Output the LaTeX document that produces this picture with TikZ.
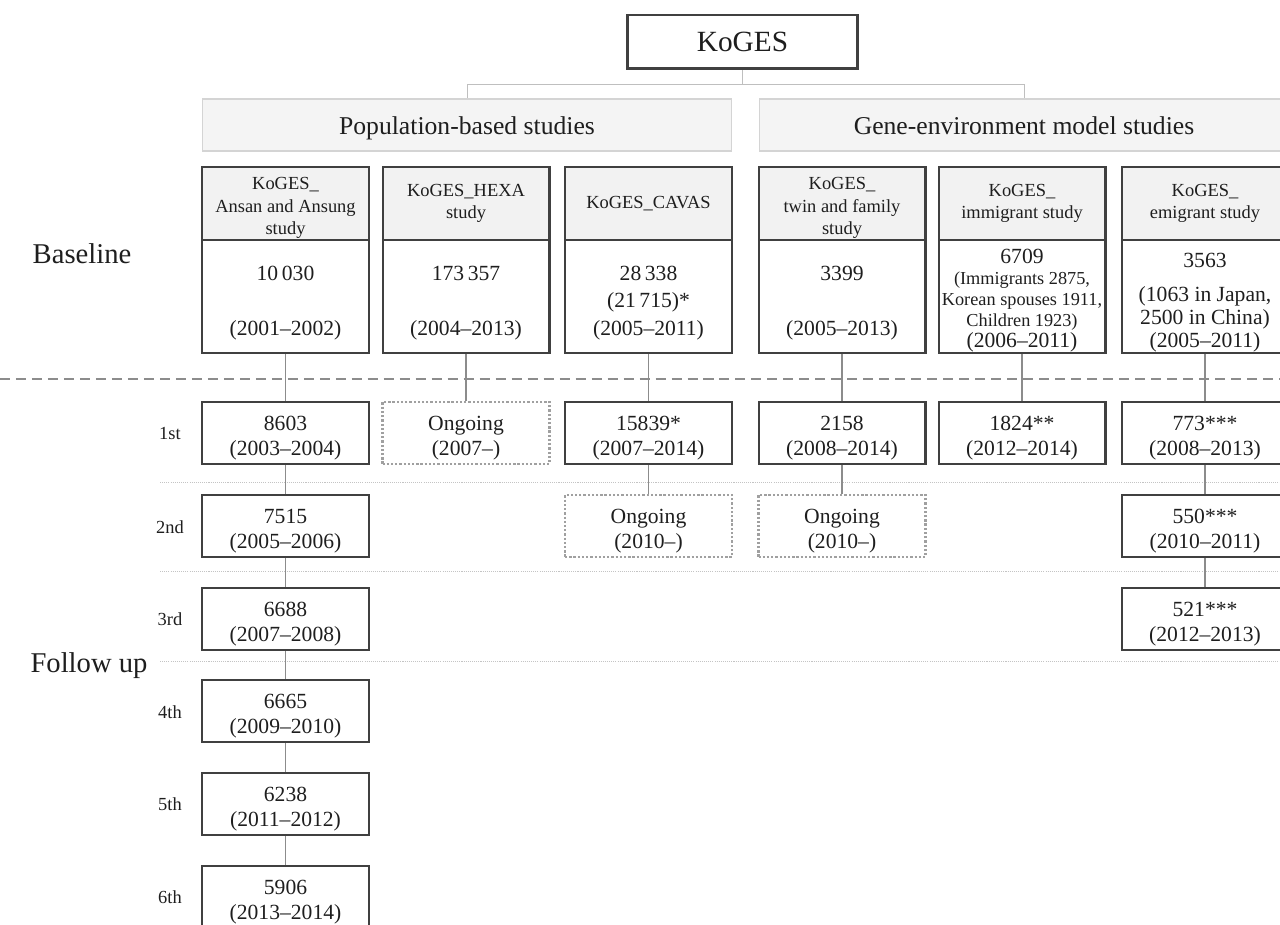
\documentclass[tikz,border=0pt]{standalone}
\usepackage{fontspec}
\setmainfont{Liberation Serif}

\definecolor{txt}{HTML}{1E1E1E}
\definecolor{boxline}{HTML}{404040}
\definecolor{headfill}{HTML}{F2F2F2}
\definecolor{grpfill}{HTML}{F4F4F4}
\definecolor{grpline}{HTML}{D4D4D4}
\definecolor{linkgray}{HTML}{8C8C8C}
\definecolor{brgray}{HTML}{BFBFBF}
\definecolor{dotgray}{HTML}{A0A0A0}
\definecolor{sepgray}{HTML}{C4C4C4}

\newcommand{\smallfont}{\fontsize{10.4}{12}\selectfont}
% extra room above the first line, so the text sits a bit lower in its box
\newcommand{\wtop}{\rule{0pt}{14pt}}
\newcommand{\btop}{\rule{0pt}{15.3pt}}

\tikzset{
  every node/.append style={text=txt},
  koges/.style={draw=boxline, line width=1.7pt, minimum width=4.62cm, minimum height=1.08cm, font=\fontsize{16.7}{20}\selectfont},
  group/.style={draw=grpline, fill=grpfill, line width=0.6pt, minimum width=10.6cm, minimum height=1.04cm, text height=13.5pt, text depth=3.2pt, font=\fontsize{14.6}{17}\selectfont},
  studyhead/.style={draw=boxline, fill=headfill, line width=1.15pt, minimum width=3.34cm, minimum height=1.46cm, align=center, inner sep=0pt, font=\fontsize{10.5}{12.75}\selectfont},
  studybody/.style={draw=boxline, line width=1.15pt, minimum width=3.34cm, minimum height=2.26cm, align=center, inner sep=0pt, font=\fontsize{12.3}{15.6}\selectfont},
  wave/.style={draw=boxline, line width=1.15pt, minimum width=3.34cm, minimum height=1.24cm, align=center, inner sep=0pt, font=\fontsize{12.3}{14.7}\selectfont},
  ongoing/.style={wave, draw=dotgray, dash pattern=on 1.3pt off 1.1pt, line width=1.5pt},
  link/.style={draw=linkgray, line width=0.75pt},
  bracket/.style={draw=brgray, line width=0.55pt},
  rowlabel/.style={font=\fontsize{10.5}{12}\selectfont},
  phase/.style={font=\fontsize{16.3}{19}\selectfont},
}

\begin{document}
\begin{tikzpicture}[x=0.02cm, y=-0.02cm]
    \useasboundingbox (0,0) rectangle (1280,925);

    % top of the tree
    \node[koges] (koges) at (742.5,42) {KoGES};
    \node[group] (pop)  at (467,125)  {Population-based studies};
    \node[group] (gene) at (1024,125) {Gene-environment model studies};
    \draw[bracket] (koges.south) -- ++(0,14) -| (pop.north);
    \draw[bracket] (koges.south) -- ++(0,14) -| (gene.north);

    % study headers
    \node[studyhead] (h1) at (285.5,203.5) {\rule{0pt}{12pt}KoGES\_\\Ansan and Ansung\\study};
    \node[studyhead] (h2) at (466,203.5)   {KoGES\_HEXA\\study};
    \node[studyhead] (h3) at (648.5,203.5) {KoGES\_CAVAS};
    \node[studyhead] (h4) at (842,203.5)   {\rule{0pt}{12pt}KoGES\_\\twin and family\\study};
    \node[studyhead] (h5) at (1022,203.5)  {KoGES\_\\immigrant study};
    \node[studyhead] (h6) at (1205,203.5)  {KoGES\_\\emigrant study};

    % baseline
    \node[studybody] (b1) at (285.5,296.5) {\btop 10\,030\\[15.6pt](2001–2002)};
    \node[studybody] (b2) at (466,296.5)   {\btop 173\,357\\[15.6pt](2004–2013)};
    \node[studybody] (b3) at (648.5,296.5) {\btop 28\,338\\(21\,715)*\\(2005–2011)};
    \node[studybody] (b4) at (842,296.5)   {\btop 3399\\[15.6pt](2005–2013)};
    \node[studybody, font=\fontsize{12.3}{12}\selectfont] (b5) at (1022,296.5)
        {\rule{0pt}{12.6pt}6709\\{\smallfont (Immigrants 2875,}\\{\smallfont Korean spouses 1911,}\\{\smallfont Children 1923)}\\(2006–2011)};
    \node[studybody, font=\fontsize{12.3}{13.3}\selectfont] (b6) at (1205,296.5)
        {\btop 3563\\[6pt](1063 in Japan,\\2500 in China)\\(2005–2011)};

    \node[phase] (base) at (82,254) {Baseline};
    \node[phase] (fu) at (89,666) {Follow up};

    % separators
    \draw[draw=linkgray, line width=0.8pt, dash pattern=on 5.7pt off 3.4pt] (0,379) -- (1280,379);
    \draw[draw=sepgray, line width=0.4pt, dash pattern=on 0.6pt off 0.6pt] (160,482) -- (1280,482);
    \draw[draw=sepgray, line width=0.4pt, dash pattern=on 0.6pt off 0.6pt] (160,571) -- (1280,571);
    \draw[draw=sepgray, line width=0.4pt, dash pattern=on 0.6pt off 0.6pt] (160,661) -- (1280,661);

    % waves
    \node[rowlabel] (r1) at (170,434) {1st};
    \node[rowlabel] (r2) at (170,527) {2nd};
    \node[rowlabel] (r3) at (170,619) {3rd};
    \node[rowlabel] (r4) at (170,712) {4th};
    \node[rowlabel] (r5) at (170,804) {5th};
    \node[rowlabel] (r6) at (170,897) {6th};

    \node[wave] (a1) at (285.5,433) {\wtop 8603\\(2003–2004)};
    \node[wave] (a2) at (285.5,526) {\wtop 7515\\(2005–2006)};
    \node[wave] (a3) at (285.5,619) {\wtop 6688\\(2007–2008)};
    \node[wave] (a4) at (285.5,711) {\wtop 6665\\(2009–2010)};
    \node[wave] (a5) at (285.5,804) {\wtop 6238\\(2011–2012)};
    \node[wave] (a6) at (285.5,897) {\wtop 5906\\(2013–2014)};
    \node[ongoing] (x1) at (466,433) {\wtop Ongoing\\(2007–)};
    \node[wave] (c1) at (648.5,433) {\wtop 15839*\\(2007–2014)};
    \node[ongoing] (c2) at (648.5,526) {\wtop Ongoing\\(2010–)};
    \node[wave] (t1) at (842,433) {\wtop 2158\\(2008–2014)};
    \node[ongoing] (t2) at (842,526) {\wtop Ongoing\\(2010–)};
    \node[wave] (i1) at (1022,433) {\wtop 1824**\\(2012–2014)};
    \node[wave] (e1) at (1205,433) {\wtop 773***\\(2008–2013)};
    \node[wave] (e2) at (1205,526) {\wtop 550***\\(2010–2011)};
    \node[wave] (e3) at (1205,619) {\wtop 521***\\(2012–2013)};

    \path[link] (b1) edge (a1) (a1) edge (a2) (a2) edge (a3)
                (a3) edge (a4) (a4) edge (a5) (a5) edge (a6);
    \path[link] (b2) edge (x1);
    \path[link] (b3) edge (c1) (c1) edge (c2);
    \path[link] (b4) edge (t1) (t1) edge (t2);
    \path[link] (b5) edge (i1);
    \path[link] (b6) edge (e1) (e1) edge (e2) (e2) edge (e3);
\end{tikzpicture}
\end{document}
